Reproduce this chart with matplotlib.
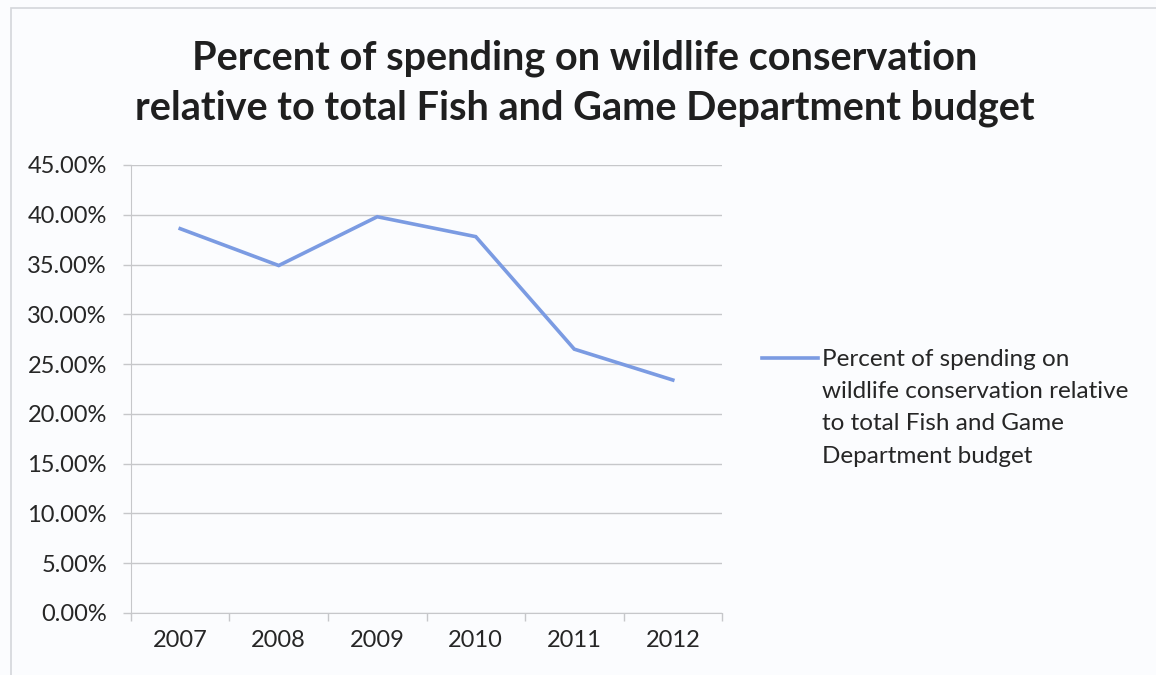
import matplotlib.pyplot as plt
from matplotlib.ticker import FuncFormatter, FixedLocator, NullFormatter
from matplotlib.patches import Rectangle
from matplotlib.lines import Line2D

# spending share by year
years = ['2007', '2008', '2009', '2010', '2011', '2012']
percent = [38.6, 34.9, 39.8, 37.8, 26.5, 23.4]
series_name = ('Percent of spending on\nwildlife conservation relative\n'
               'to total Fish and Game\nDepartment budget')
title = ('Percent of spending on wildlife conservation\n'
         'relative to total Fish and Game Department budget')

plt.rcParams['font.family'] = ['Lato', 'DejaVu Sans']
line_color = '#7b9be2'
grid_color = '#c6c7ca'
text_color = '#262626'

fig = plt.figure(figsize=(11.56, 6.75), dpi=100)
fig.patch.set_facecolor('#fbfcfe')

# light chart border
fig.patches.append(Rectangle((0.0095, -0.01), 1.2, 0.998, transform=fig.transFigure,
                             fill=False, edgecolor='#d4d6da', linewidth=1.2))

ax = fig.add_axes([0.1133, 0.0919, 0.5113, 0.6637])
ax.set_facecolor('none')

x = list(range(len(years)))
ax.plot(x, percent, color=line_color, linewidth=2.6, solid_joinstyle='miter')

ax.set_xlim(-0.5, len(years) - 0.5)
ax.set_ylim(0, 45)
ax.set_yticks([i * 5 for i in range(10)])
ax.yaxis.set_major_formatter(FuncFormatter(lambda v, p: f'{v:.2f}%'))
ax.grid(axis='y', color=grid_color, linewidth=1.0)
ax.set_axisbelow(True)

# category labels centred, tick marks between categories
ax.xaxis.set_major_locator(FixedLocator([i - 0.5 for i in range(len(years) + 1)]))
ax.xaxis.set_major_formatter(NullFormatter())
ax.xaxis.set_minor_locator(FixedLocator(x))
ax.set_xticklabels(years, minor=True)
ax.tick_params(axis='x', which='minor', length=0, pad=12, labelsize=17, labelcolor=text_color)
ax.tick_params(axis='x', which='major', length=5.8, color=grid_color, width=1.0)
ax.tick_params(axis='y', length=5.8, color=grid_color, width=1.0, pad=11.5,
               labelsize=17, labelcolor=text_color)

for side in ['top', 'right']:
    ax.spines[side].set_visible(False)
ax.spines['left'].set_color(grid_color)
ax.spines['bottom'].set_color(grid_color)

fig.text(0.506, 0.877, title, ha='center', va='center', fontsize=28.5,
         fontweight='bold', color='#1f1f1f', linespacing=1.4)

# legend: key line beside the first text line
fig.add_artist(Line2D([0.659, 0.708], [0.470, 0.470], transform=fig.transFigure,
                      color=line_color, linewidth=2.6))
fig.text(0.711, 0.470 + 0.013, series_name, ha='left', va='top', fontsize=17.5,
         color=text_color, linespacing=1.66)

fig.savefig('out.png', dpi=100, facecolor=fig.get_facecolor())
